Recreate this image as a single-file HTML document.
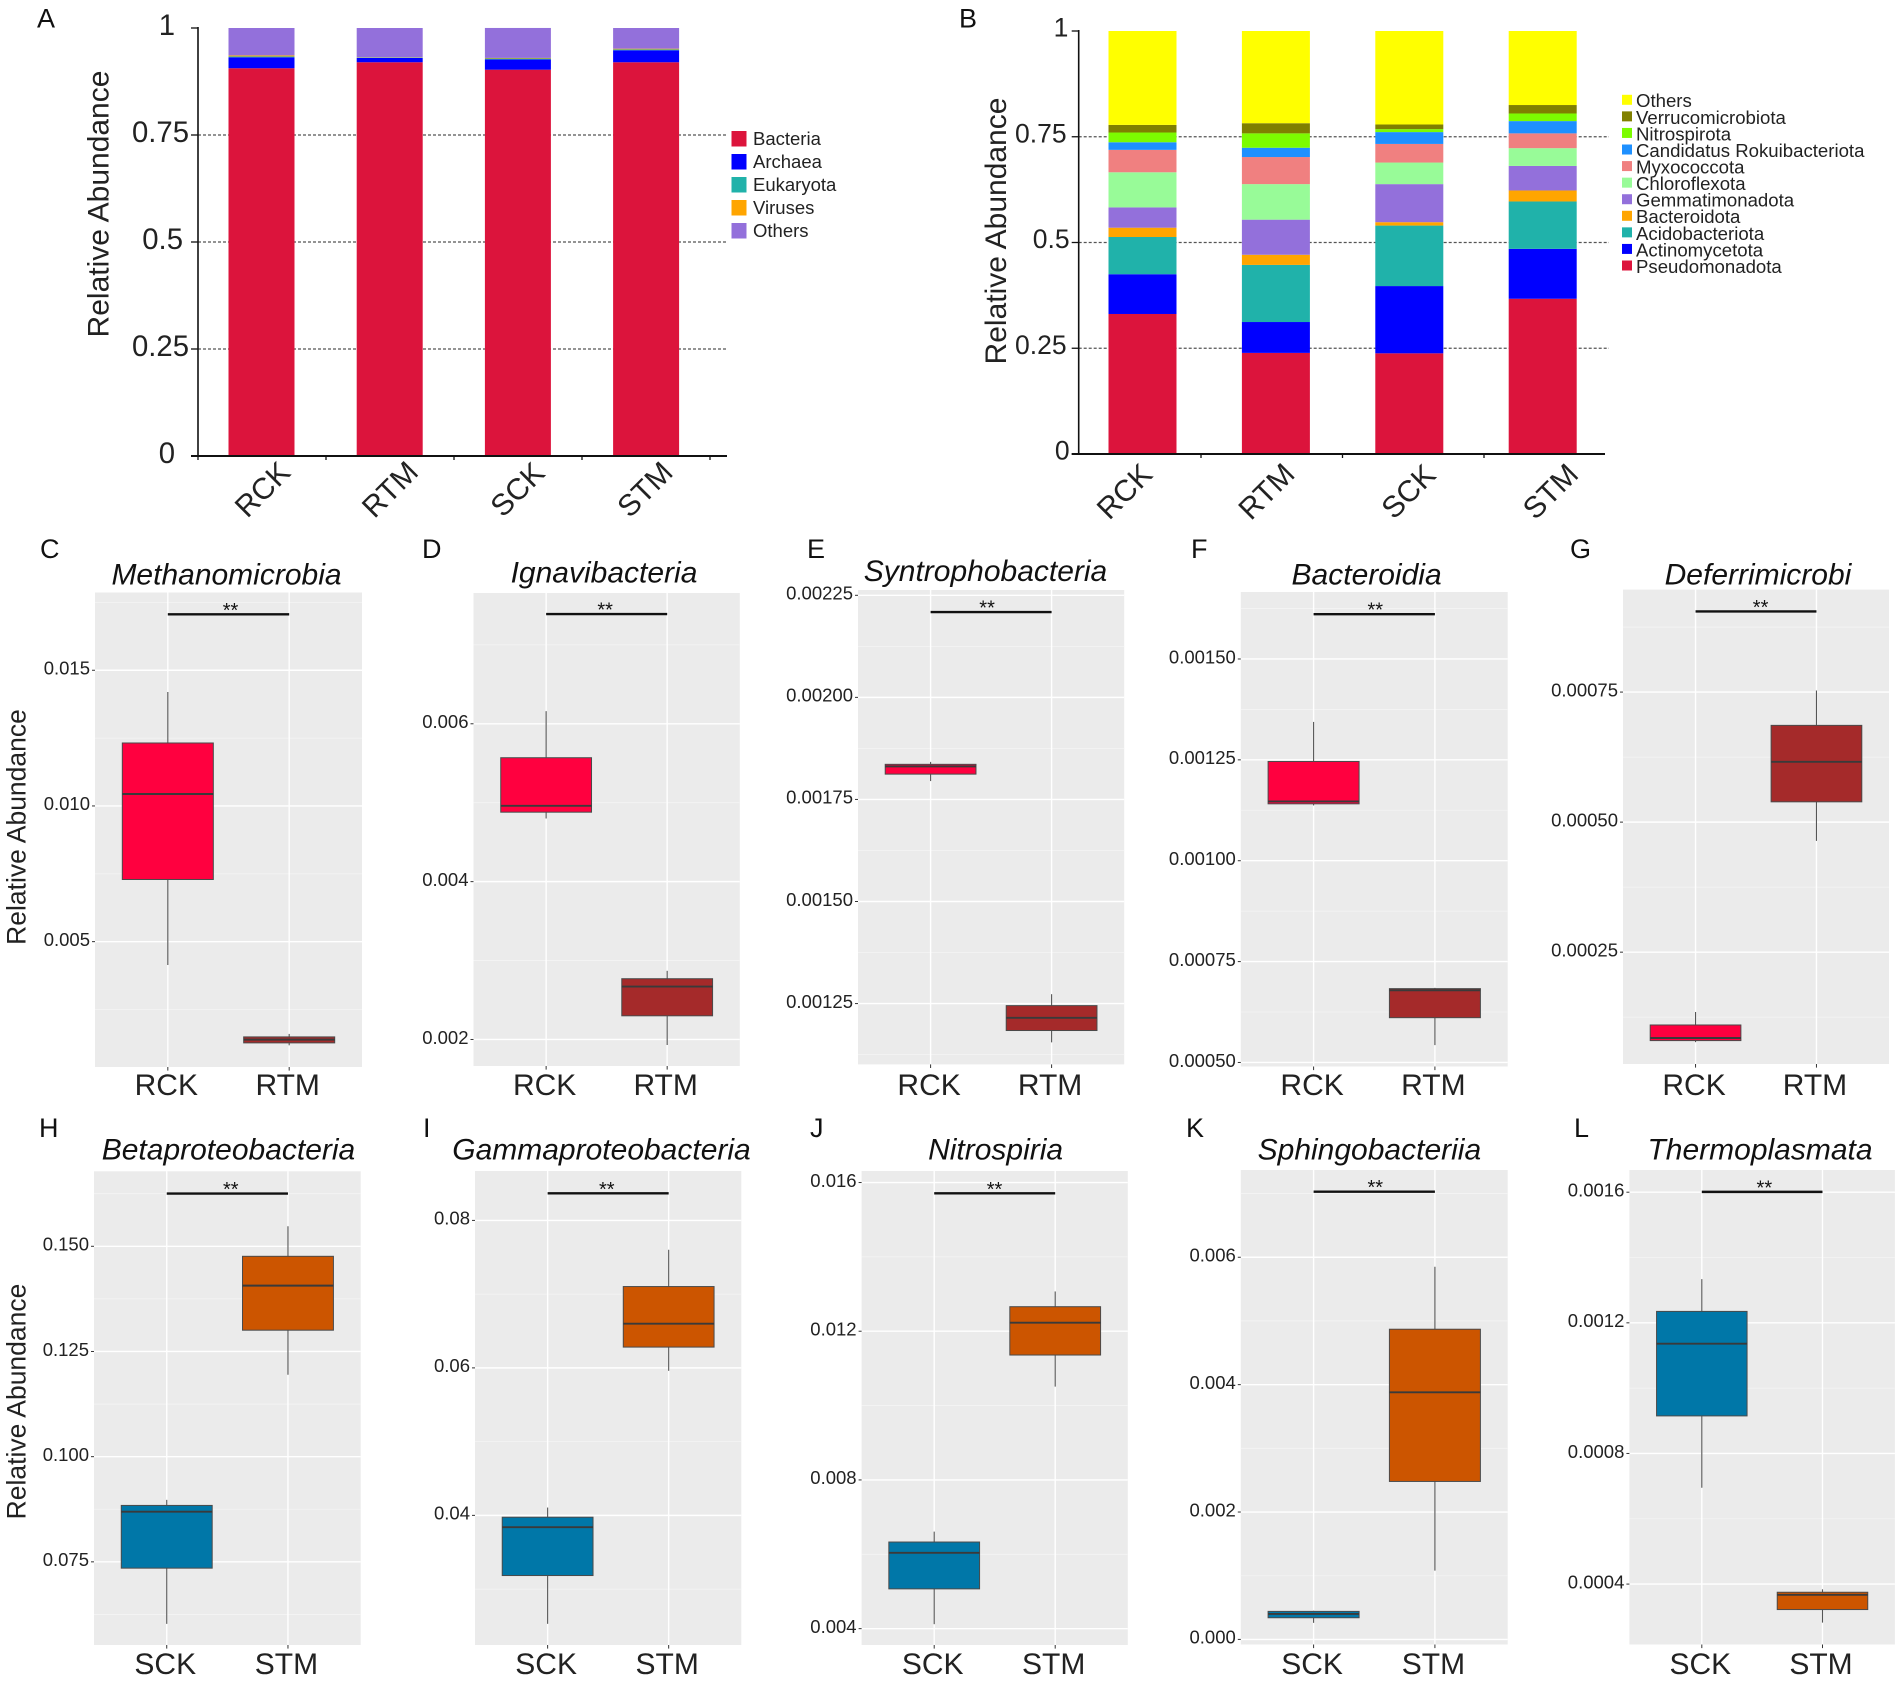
<!DOCTYPE html>
<html lang="en">
<head>
<meta charset="utf-8">
<title>Relative abundance of microbial taxa</title>
<style>
html,body{margin:0;padding:0;background:#fff;}
svg{display:block;font-family:"Liberation Sans",Arial,sans-serif;filter:blur(0.35px);}
.panel-letter{font-size:27px;fill:#111;}
.box-title{font-size:30px;font-style:italic;fill:#111;text-anchor:middle;}
.y-title-big{font-size:30px;fill:#222;text-anchor:middle;}
.y-title-small{font-size:26.5px;fill:#222;text-anchor:middle;}
</style>
</head>
<body>
<svg id="figure" xmlns="http://www.w3.org/2000/svg" width="1902" height="1682" viewBox="0 0 1902 1682">
  <rect x="0" y="0" width="1902" height="1682" fill="#fff"/>
  <g id="layer-charts"></g>

  <text class="panel-letter" x="37" y="27.5">A</text>
  <text class="panel-letter" x="959" y="27.5">B</text>
  <text class="panel-letter" x="40" y="558">C</text>
  <text class="panel-letter" x="422" y="558">D</text>
  <text class="panel-letter" x="807" y="558">E</text>
  <text class="panel-letter" x="1191" y="558">F</text>
  <text class="panel-letter" x="1570" y="558">G</text>
  <text class="panel-letter" x="39" y="1137">H</text>
  <text class="panel-letter" x="423" y="1137">I</text>
  <text class="panel-letter" x="810" y="1137">J</text>
  <text class="panel-letter" x="1186" y="1137">K</text>
  <text class="panel-letter" x="1574" y="1137">L</text>

  <text class="y-title-big" transform="translate(108.5,204) rotate(-90)">Relative Abundance</text>
  <text class="y-title-big" transform="translate(1006,231) rotate(-90)">Relative Abundance</text>
  <text class="y-title-small" transform="translate(25.5,827) rotate(-90)">Relative Abundance</text>
  <text class="y-title-small" transform="translate(25.5,1401.5) rotate(-90)">Relative Abundance</text>

  <text class="box-title" x="226.5" y="584.5">Methanomicrobia</text>
  <text class="box-title" x="604" y="582.7">Ignavibacteria</text>
  <text class="box-title" x="985.5" y="581">Syntrophobacteria</text>
  <text class="box-title" x="1366.6" y="584.5">Bacteroidia</text>
  <text class="box-title" x="1758" y="584.5">Deferrimicrobi</text>
  <text class="box-title" x="228.5" y="1159.4">Betaproteobacteria</text>
  <text class="box-title" x="601.5" y="1159.4">Gammaproteobacteria</text>
  <text class="box-title" x="995.6" y="1159.4">Nitrospiria</text>
  <text class="box-title" x="1369.4" y="1159.4">Sphingobacteriia</text>
  <text class="box-title" x="1760" y="1159.4">Thermoplasmata</text>
</svg>

<script>
/* ---------- stacked bar data ---------- */
const stackCategories = ['RCK', 'RTM', 'SCK', 'STM'];
const stackTicks = ['0', '0.25', '0.5', '0.75', '1'];

const domainNamesA = ['Bacteria', 'Archaea', 'Eukaryota', 'Viruses', 'Others'];
const bacteria = [0.906, 0.920, 0.9026, 0.920];
const archaea = [0.0256, 0.010, 0.0241, 0.028];
const eukaryota = [0.002, 0.0008, 0.002, 0.002];
const viruses = [0.0024, 0.0008, 0.0014, 0.0017];
const othersA = [0.064, 0.0684, 0.070, 0.0483];

const phylumNamesB = ['Pseudomonadota', 'Actinomycetota', 'Acidobacteriota', 'Bacteroidota', 'Gemmatimonadota', 'Chloroflexota', 'Myxococcota', 'Candidatus Rokuibacteriota', 'Nitrospirota', 'Verrucomicrobiota', 'Others'];
const pseudomonadota = [0.331, 0.239, 0.238, 0.367];
const actinomycetota = [0.094, 0.073, 0.159, 0.118];
const acidobacteriota = [0.088, 0.135, 0.143, 0.112];
const bacteroidota = [0.022, 0.024, 0.008, 0.026];
const gemmatimonadota = [0.048, 0.083, 0.090, 0.058];
const chloroflexota = [0.083, 0.084, 0.051, 0.042];
const myxococcota = [0.053, 0.064, 0.044, 0.035];
const rokuibacteriota = [0.018, 0.022, 0.028, 0.029];
const nitrospirota = [0.023, 0.034, 0.007, 0.018];
const verrucomicrobiota = [0.018, 0.024, 0.011, 0.020];
const othersB = [0.222, 0.218, 0.221, 0.175];

/* ---------- box plot data: [lower whisker, q1, median, q3, upper whisker] ---------- */
const groupsR = ['RCK', 'RTM'];
const groupsS = ['SCK', 'STM'];

const ticksC = ['0.015', '0.010', '0.005'];
const rangeC = [0.000381, 0.017865];
const statsC = [[0.00414, 0.00729, 0.01044, 0.01232, 0.01420], [0.00118, 0.00127, 0.00139, 0.00149, 0.00160]];
const bracketC = 0.01706;

const ticksD = ['0.006', '0.004', '0.002'];
const rangeD = [0.001664, 0.007657];
const statsD = [[0.00480, 0.00488, 0.00496, 0.00557, 0.00616], [0.00193, 0.00230, 0.00267, 0.00277, 0.00287]];
const bracketD = 0.00739;

const ticksE = ['0.00225', '0.00200', '0.00175', '0.00150', '0.00125'];
const rangeE = [0.001101, 0.002263];
const statsE = [[0.001795, 0.001812, 0.001831, 0.001836, 0.001842], [0.001155, 0.001184, 0.001215, 0.001245, 0.001273]];
const bracketE = 0.002209;

const ticksF = ['0.00150', '0.00125', '0.00100', '0.00075', '0.00050'];
const rangeF = [0.00049, 0.001666];
const statsF = [[0.001137, 0.001141, 0.001147, 0.001246, 0.001344], [0.000543, 0.000611, 0.000679, 0.000683, 0.000685]];
const bracketF = 0.001611;

const ticksG = ['0.00075', '0.00050', '0.00025'];
const rangeG = [0.000035, 0.000947];
const statsG = [[0.000077, 0.00008, 0.000085, 0.00011, 0.000135], [0.000464, 0.000539, 0.000616, 0.000686, 0.000753]];
const bracketG = 0.000905;

const ticksH = ['0.150', '0.125', '0.100', '0.075'];
const rangeH = [0.055235, 0.167824];
const statsH = [[0.06026, 0.0735, 0.08691, 0.08841, 0.089735], [0.11947, 0.13006, 0.14065, 0.14762, 0.15476]];
const bracketH = 0.16253;

const ticksI = ['0.08', '0.06', '0.04'];
const rangeI = [0.02242, 0.0867];
const statsI = [[0.02529, 0.03184, 0.03839, 0.03975, 0.04106], [0.0596, 0.06282, 0.06599, 0.07103, 0.07602]];
const bracketI = 0.08368;

const ticksJ = ['0.016', '0.012', '0.008', '0.004'];
const rangeJ = [0.00356, 0.01631];
const statsJ = [[0.00412, 0.00507, 0.00604, 0.00633, 0.00661], [0.01051, 0.01136, 0.01223, 0.01266, 0.01307]];
const bracketJ = 0.01571;

const ticksK = ['0.006', '0.004', '0.002', '0.000'];
const rangeK = [-0.00008, 0.00737];
const statsK = [[0.00026, 0.00034, 0.0004, 0.00044, 0.00045], [0.00108, 0.00248, 0.00388, 0.00487, 0.00585]];
const bracketK = 0.00703;

const ticksL = ['0.0016', '0.0012', '0.0008', '0.0004'];
const rangeL = [0.000215, 0.001668];
const statsL = [[0.000695, 0.000915, 0.001136, 0.001235, 0.001334], [0.000282, 0.000322, 0.000367, 0.000375, 0.000384]];
const bracketL = 0.001601;

/* ---------- layout and style (separate from the data above) ---------- */
const NS = 'http://www.w3.org/2000/svg';
const root = document.getElementById('layer-charts');

function mk(tag, attrs, parent, text) {
  const node = document.createElementNS(NS, tag);
  for (const k in attrs) node.setAttribute(k, attrs[k]);
  if (text !== undefined) node.textContent = text;
  parent.appendChild(node);
  return node;
}

const colorsA = ['#DC143C', '#0000FF', '#20B2AA', '#FFA500', '#9370DB'];
const colorsB = ['#DC143C', '#0000FF', '#20B2AA', '#FFA500', '#9370DB', '#98FB98', '#F08080', '#1E90FF', '#7CFC00', '#808000', '#FFFF00'];
const seriesA = [bacteria, archaea, eukaryota, viruses, othersA];
const seriesB = [pseudomonadota, actinomycetota, acidobacteriota, bacteroidota, gemmatimonadota, chloroflexota, myxococcota, rokuibacteriota, nitrospirota, verrucomicrobiota, othersB];

const stackA = {
  key: 'a', names: domainNamesA, series: seriesA, colors: colorsA,
  axisX: 198, axisEnd: 727, gridEnd: 727, y0: 456, y1: 28,
  barLeft: 228.5, barWidth: 66, barStep: 128.2,
  tickStart: 198, tickStep: 128, tickCount: 5, tickLen: 7,
  labelStart: 262, labelStep: 127.5, labelY: 489,
  tickFont: 29.3, tickDy: 7,
  tickRights: { '0': 175, '0.25': 189, '0.5': 183, '0.75': 189, '1': 175 },
  legX: 731.5, legY: 131, legStep: 23, legW: 15, legH: 15.5, legTextX: 753, legFont: 18.5, legDy: 14, reverse: false
};
const stackB = {
  key: 'b', names: phylumNamesB, series: seriesB, colors: colorsB,
  axisX: 1078.7, axisEnd: 1605, gridEnd: 1609, y0: 454, y1: 31,
  barLeft: 1108.5, barWidth: 68, barStep: 133.4,
  tickStart: 1201, tickStep: 141.5, tickCount: 3, tickLen: 7,
  labelStart: 1124, labelStep: 142, labelY: 491,
  tickFont: 26.5, tickDy: 5.7,
  tickRights: { '0': 1069.6, '0.25': 1066.6, '0.5': 1069.6, '0.75': 1066.6, '1': 1068.4 },
  legX: 1622, legY: 94.8, legStep: 16.57, legW: 10, legH: 10, legTextX: 1636, legFont: 18.6, legDy: 12.4, reverse: true
};

function drawStack(cfg) {
  const g = mk('g', {}, root);
  
  
  const yScale = v => cfg.y0 - (cfg.y0 - cfg.y1) * v;

  stackTicks.forEach(t => {
    const v = Number(t);
    if (v > 0 && v < 1) {
      const line = mk('line', { x1: cfg.axisX, x2: cfg.gridEnd, y1: yScale(v), y2: yScale(v), stroke: '#555', 'stroke-width': 1.2, 'stroke-dasharray': '3 2' }, g);
      
      
    }
    const mark = mk('line', { x1: cfg.axisX - cfg.tickLen, x2: cfg.axisX, y1: yScale(v), y2: yScale(v), stroke: '#111', 'stroke-width': 1.3 }, g);
    
    
    const label = mk('text', { x: cfg.tickRights[t], y: yScale(v) + cfg.tickDy, 'text-anchor': 'end', 'font-size': cfg.tickFont, fill: '#222' }, g, t);
    
    
  });

  stackCategories.forEach((cat, i) => {
    let cum = 0;
    const x = cfg.barLeft + i * cfg.barStep;
    cfg.series.forEach((values, s) => {
      const top = yScale(cum + values[i]);
      const bottom = yScale(cum);
      cum += values[i];
      const seg = mk('rect', { x: x, y: top, width: cfg.barWidth, height: Math.max(bottom - top, 0.3), fill: cfg.colors[s] }, g);
      
      
    });
    const cx = cfg.labelStart + i * cfg.labelStep;
    const lab = mk('text', { transform: 'translate(' + cx + ',' + cfg.labelY + ') rotate(-45)', 'text-anchor': 'middle', dy: '0.36em', 'font-size': 30, fill: '#222' }, g, cat);
    
    
  });

  const yAxis = mk('line', { x1: cfg.axisX, x2: cfg.axisX, y1: cfg.y1 - 1, y2: cfg.y0 + 1, stroke: '#111', 'stroke-width': 1.6 }, g);
  
  
  const xAxis = mk('line', { x1: cfg.axisX - 7, x2: cfg.axisEnd, y1: cfg.y0, y2: cfg.y0, stroke: '#111', 'stroke-width': 2 }, g);
  
  
  for (let i = 0; i < cfg.tickCount; i++) {
    const tx = cfg.tickStart + i * cfg.tickStep;
    const xt = mk('line', { x1: tx, x2: tx, y1: cfg.y0, y2: cfg.y0 + 4, stroke: '#111', 'stroke-width': 1.3 }, g);
    
    
  }

  const order = cfg.names.map((n, i) => i);
  if (cfg.reverse) order.reverse();
  const legend = mk('g', {}, g);
  
  
  order.forEach((s, row) => {
    const y = cfg.legY + row * cfg.legStep;
    const sw = mk('rect', { x: cfg.legX, y: y, width: cfg.legW, height: cfg.legH, fill: cfg.colors[s] }, legend);
    
    
    const tx = mk('text', { x: cfg.legTextX, y: y + cfg.legDy, 'font-size': cfg.legFont, fill: '#222' }, legend, cfg.names[s]);
    
    
  });
}

const fillsR = ['#FF003F', '#A52A2A'];
const fillsS = ['#0077A8', '#CC5500'];

const panels = [
  { key: 'c', groups: groupsR, fills: fillsR, ticks: ticksC, range: rangeC, stats: statsC, bracket: bracketC, l: 95, r: 362, t: 592.5, b: 1067, labelY: 1095, starDx: 2 },
  { key: 'd', groups: groupsR, fills: fillsR, ticks: ticksD, range: rangeD, stats: statsD, bracket: bracketD, l: 473.5, r: 739.8, t: 593, b: 1066, labelY: 1095, starDx: -1.5 },
  { key: 'e', groups: groupsR, fills: fillsR, ticks: ticksE, range: rangeE, stats: statsE, bracket: bracketE, l: 858, r: 1124.2, t: 590, b: 1064.4, labelY: 1095, starDx: -4 },
  { key: 'f', groups: groupsR, fills: fillsR, ticks: ticksF, range: rangeF, stats: statsF, bracket: bracketF, l: 1240.8, r: 1507.7, t: 592, b: 1066.5, labelY: 1095, starDx: 1 },
  { key: 'g', groups: groupsR, fills: fillsR, ticks: ticksG, range: rangeG, stats: statsG, bracket: bracketG, l: 1623, r: 1889, t: 589.6, b: 1064, labelY: 1095, starDx: 4.6 },
  { key: 'h', groups: groupsS, fills: fillsS, ticks: ticksH, range: rangeH, stats: statsH, bracket: bracketH, l: 94, r: 360.7, t: 1171.3, b: 1645, labelY: 1674, starDx: 3.4 },
  { key: 'i', groups: groupsS, fills: fillsS, ticks: ticksI, range: rangeI, stats: statsI, bracket: bracketI, l: 475, r: 741.3, t: 1171, b: 1645, labelY: 1674, starDx: -1.4 },
  { key: 'j', groups: groupsS, fills: fillsS, ticks: ticksJ, range: rangeJ, stats: statsJ, bracket: bracketJ, l: 861.6, r: 1127.8, t: 1171, b: 1645, labelY: 1674, starDx: -0.2 },
  { key: 'k', groups: groupsS, fills: fillsS, ticks: ticksK, range: rangeK, stats: statsK, bracket: bracketK, l: 1240.8, r: 1507.7, t: 1170, b: 1644.5, labelY: 1674, starDx: 1 },
  { key: 'l', groups: groupsS, fills: fillsS, ticks: ticksL, range: rangeL, stats: statsL, bracket: bracketL, l: 1629.4, r: 1894.9, t: 1170, b: 1644.5, labelY: 1674, starDx: 2.2 }
];

function drawBoxPanel(p) {
  const g = mk('g', {}, root);
  
  
  const yScale = v => p.b - (v - p.range[0]) / (p.range[1] - p.range[0]) * (p.b - p.t);
  const xScale = i => p.l + (i + 0.6) / 2.2 * (p.r - p.l);
  const boxW = 0.75 / 2.2 * (p.r - p.l);

  const bg = mk('rect', { x: p.l, y: p.t, width: p.r - p.l, height: p.b - p.t, fill: '#EBEBEB' }, g);
  
  

  const values = p.ticks.map(Number);
  const half = Math.abs(values[0] - values[1]) / 2;
  const base = values[values.length - 1];
  for (let k = -21; k < 40; k += 2) {
    const v = base + k * half;
    if (v > p.range[0] && v < p.range[1]) {
      const minor = mk('line', { x1: p.l, x2: p.r, y1: yScale(v), y2: yScale(v), stroke: '#F4F4F4', 'stroke-width': 0.8 }, g);
      
      
    }
  }
  p.ticks.forEach(t => {
    const y = yScale(Number(t));
    const grid = mk('line', { x1: p.l, x2: p.r, y1: y, y2: y, stroke: '#fff', 'stroke-width': 1.4 }, g);
    
    
    const mark = mk('line', { x1: p.l - 3, x2: p.l, y1: y, y2: y, stroke: '#333', 'stroke-width': 1 }, g);
    
    
    const label = mk('text', { x: p.l - 5, y: y + 4.3, 'text-anchor': 'end', 'font-size': 18.5, fill: '#222' }, g, t);
    
    
  });

  p.groups.forEach((name, i) => {
    const cx = xScale(i);
    const vg = mk('line', { x1: cx, x2: cx, y1: p.t, y2: p.b, stroke: '#fff', 'stroke-width': 1.4 }, g);
    
    
    const xt = mk('line', { x1: cx, x2: cx, y1: p.b, y2: p.b + 3.6, stroke: '#333', 'stroke-width': 1 }, g);
    
    
    const xl = mk('text', { x: cx - 1.5, y: p.labelY, 'text-anchor': 'middle', 'font-size': 30, fill: '#222' }, g, name);
    
    
  });

  p.stats.forEach((s, i) => {
    const cx = xScale(i);
    const whisker = mk('line', { x1: cx, x2: cx, y1: yScale(s[0]), y2: yScale(s[4]), stroke: '#555', 'stroke-width': 1.1 }, g);
    
    
    const box = mk('rect', { x: cx - boxW / 2, y: yScale(s[3]), width: boxW, height: yScale(s[1]) - yScale(s[3]), fill: p.fills[i], stroke: '#4a4a4a', 'stroke-width': 1 }, g);
    
    
    const med = mk('line', { x1: cx - boxW / 2, x2: cx + boxW / 2, y1: yScale(s[2]), y2: yScale(s[2]), stroke: '#3a3a3a', 'stroke-width': 1.9 }, g);
    
    
  });

  const by = yScale(p.bracket);
  const bracket = mk('line', { x1: xScale(0), x2: xScale(1), y1: by, y2: by, stroke: '#111', 'stroke-width': 2.4 }, g);
  
  
  const stars = mk('text', { x: (xScale(0) + xScale(1)) / 2 + p.starDx, y: by + 2.5, 'text-anchor': 'middle', 'font-size': 20, fill: '#111' }, g, '**');
  
  
}

drawStack(stackA);
drawStack(stackB);
panels.forEach(drawBoxPanel);
</script>
</body>
</html>
